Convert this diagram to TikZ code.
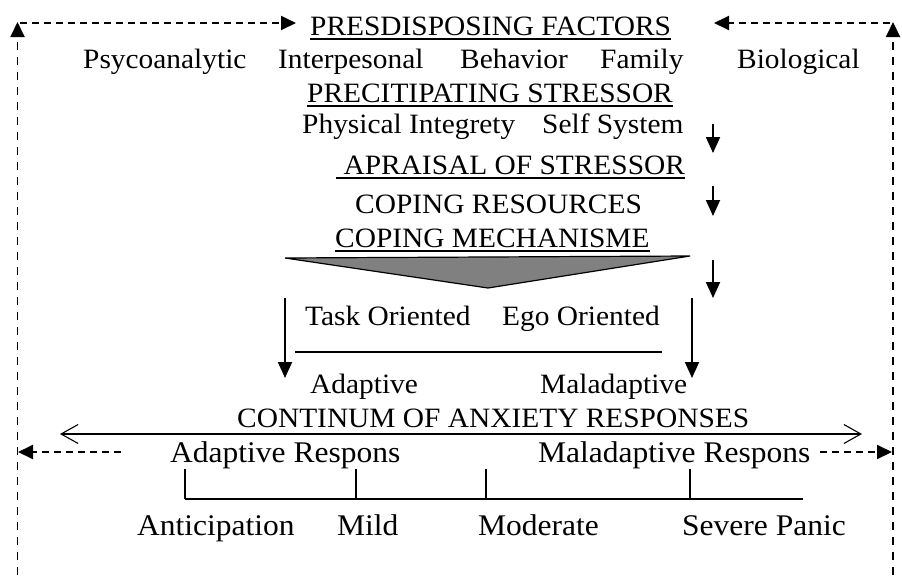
\documentclass[tikz,border=0pt]{standalone}
\usepackage{fontspec}
\setmainfont{Liberation Serif}[FakeStretch=1.05]
\usetikzlibrary{arrows.meta}
\begin{document}
\begin{tikzpicture}[x=1pt,y=-1pt,
  lbl/.style={anchor=base west, inner sep=0pt, font=\fontsize{28}{33}\selectfont},
  lblbig/.style={lbl, font=\fontsize{30}{35}\selectfont},
  uline/.style={line width=1.5pt},
  dline/.style={dash pattern=on 7pt off 5pt, line width=1.9pt, -{Triangle[length=15pt,width=14pt]}},
  dlinev/.style={dline, dash pattern=on 8pt off 7pt},
  darrow/.style={line width=1.8pt, -{Triangle[length=16pt,width=14pt]}},
  rulestyle/.style={line width=1.8pt},
  contline/.style={line width=1.1pt, {Straight Barb[length=17pt,width=19pt]}-{Straight Barb[length=17pt,width=19pt]}}]
\useasboundingbox (0,0) rectangle (902,576);

% ---- text ----
\node[lbl] (pf)   at (310,35)  {PRESDISPOSING FACTORS};
\node[lbl] (psy)  at (83,68)   {Psycoanalytic};
\node[lbl] (int)  at (278,68)  {Interpesonal};
\node[lbl] (beh)  at (460,68)  {Behavior};
\node[lbl] (fam)  at (600,68)  {Family};
\node[lbl] (bio)  at (737,68)  {Biological};
\node[lbl] (ps)   at (307,102) {PRECITIPATING STRESSOR};
\node[lbl] (phy)  at (302,133) {Physical Integrety};
\node[lbl] (slf)  at (542,133) {Self System};
\node[lbl] (apr)  at (336,174) {\ APRAISAL OF STRESSOR};
\node[lbl] (cres) at (355,213) {COPING RESOURCES};
\node[lbl] (cmec) at (335,247) {COPING MECHANISME};
\node[lbl] (task) at (305,325) {Task Oriented};
\node[lbl] (ego)  at (502,325) {Ego Oriented};
\node[lbl] (adp)  at (310,393) {Adaptive};
\node[lbl] (mal)  at (540,393) {Maladaptive};
\node[lbl] (cont) at (237,427) {CONTINUM OF ANXIETY RESPONSES};
\node[lblbig] (ars)  at (170,462) {Adaptive Respons};
\node[lblbig] (mrs)  at (538,462) {Maladaptive Respons};
\node[lblbig] (ant)  at (137,535) {Anticipation};
\node[lblbig] (mild) at (337,535) {Mild};
\node[lblbig] (mod)  at (478,535) {Moderate};
\node[lblbig] (sev)  at (682,535) {Severe Panic};

% ---- underlines ----
\foreach \n in {pf,ps,apr,cmec}
  \draw[uline] ([yshift=-4pt]\n.base west) -- ([yshift=-4pt]\n.base east);

% ---- dashed feedback frame ----
\coordinate (lb) at (17.5,590);  \coordinate (lt) at (17.5,22);
\coordinate (rb) at (893,590); \coordinate (rt) at (893,22);
\coordinate (tl0) at (20,23);  \coordinate (tl1) at (296,23);
\coordinate (tr0) at (890,23); \coordinate (tr1) at (714,23);
\coordinate (bl0) at (121,452); \coordinate (bl1) at (18,452);
\coordinate (br0) at (820,452); \coordinate (br1) at (892,452);
\draw[dlinev] (lb) -- (lt);
\draw[dlinev] (rb) -- (rt);
\draw[dline] (tl0) -- (tl1);
\draw[dline] (tr0) -- (tr1);
\draw[dline] (bl0) -- (bl1);
\draw[dline] (br0) -- (br1);

% ---- flow arrows on the right ----
\coordinate (a1s) at (713,124); \coordinate (a1e) at (713,153);
\coordinate (a2s) at (713,186); \coordinate (a2e) at (713,216);
\coordinate (a3s) at (713,260); \coordinate (a3e) at (713,298);
\draw[darrow] (a1s) -- (a1e);
\draw[darrow] (a2s) -- (a2e);
\draw[darrow] (a3s) -- (a3e);

% ---- funnel ----
\coordinate (fl) at (285,258); \coordinate (fr) at (690,256); \coordinate (fb) at (488,288);
\draw[line width=1.2pt, fill=black!50] (fl) -- (fr) -- (fb) -- cycle;

% ---- branches ----
\coordinate (b1s) at (285,298); \coordinate (b1e) at (285,378);
\coordinate (b2s) at (692,298); \coordinate (b2e) at (692,378);
\draw[darrow] (b1s) -- (b1e);
\draw[darrow] (b2s) -- (b2e);
\coordinate (s0) at (295,352); \coordinate (s1) at (662,352);
\draw[rulestyle] (s0) -- (s1);

% ---- continuum ----
\coordinate (cl) at (60,434); \coordinate (cr) at (862,434);
\draw[contline] (cl) -- (cr);

% ---- scale bracket ----
\coordinate (k0) at (185,499); \coordinate (k1) at (803,499);
\draw[rulestyle] (k0) -- (k1);
\foreach \x in {185,356,486,690}
  \draw[rulestyle] (\x,469) -- (\x,499);
\end{tikzpicture}
\end{document}
